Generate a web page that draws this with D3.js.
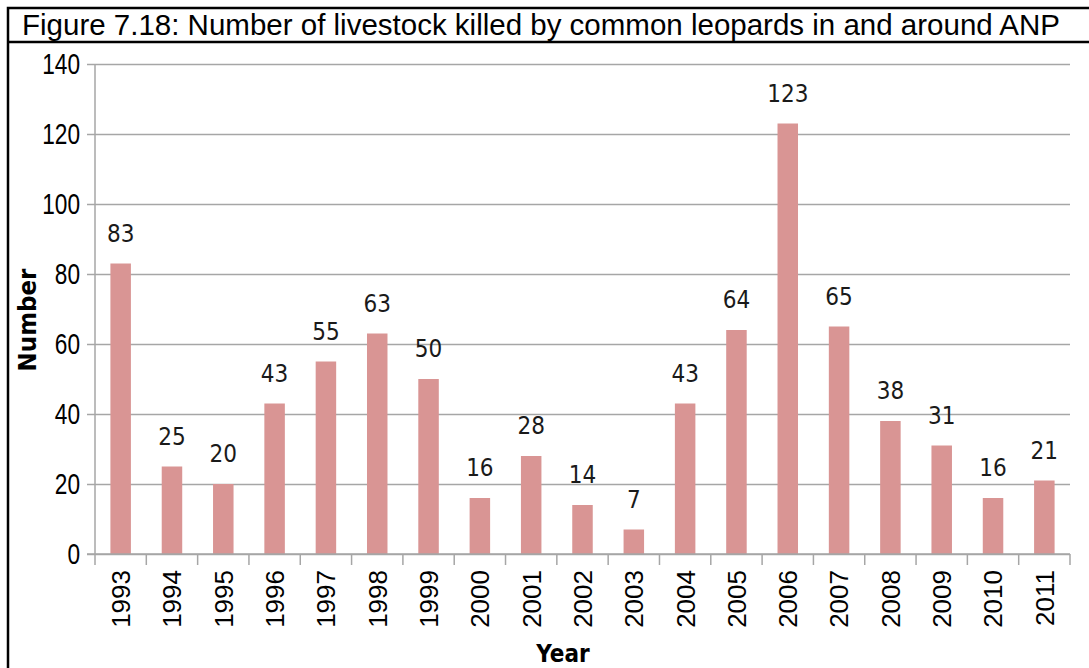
<!DOCTYPE html>
<html>
<head>
<meta charset="utf-8">
<script src="https://cdn.jsdelivr.net/npm/d3@7"></script>
<style>
  html, body { margin: 0; padding: 0; background: #fff; }
  svg { display: block; }
</style>
</head>
<body>
<svg id="chart" width="1089" height="668"></svg>
<script>
// Livestock killed by common leopards per year
const years = ["1993","1994","1995","1996","1997","1998","1999","2000","2001","2002",
               "2003","2004","2005","2006","2007","2008","2009","2010","2011"];
const kills = [83, 25, 20, 43, 55, 63, 50, 16, 28, 14, 7, 43, 64, 123, 65, 38, 31, 16, 21];
const yTicks = [0, 20, 40, 60, 80, 100, 120, 140];

const titleText = "Figure 7.18: Number of livestock killed by common leopards in and around ANP";
const xTitle = "Year";
const yTitle = "Number";

const svg = d3.select("#chart");
const W = 1089, H = 668;
const plot = { left: 95, right: 1070, top: 64, bottom: 554 };

// frame: outer box and title row
svg.append("path")
  .attr("d", `M8,${H + 5} L8,8 L${W + 5},8`)
  .attr("fill", "none").attr("stroke", "#000").attr("stroke-width", 2.5);
svg.append("line")
  .attr("x1", 8).attr("x2", W + 5).attr("y1", 42).attr("y2", 42)
  .attr("stroke", "#000").attr("stroke-width", 2.5);

svg.append("text")
  .attr("x", 22).attr("y", 35)
  .attr("font-family", "Liberation Sans, Arial, sans-serif")
  .attr("font-size", 29.5)
  .attr("fill", "#000")
  .text(titleText);

const x = d3.scaleBand().domain(years).range([plot.left, plot.right]).paddingInner(0).paddingOuter(0);
const y = d3.scaleLinear().domain([0, 140]).range([plot.bottom, plot.top]);

const gridColor = "#a6a6a6";

// horizontal gridlines with left tick marks
const yAxis = d3.axisLeft(y).tickValues(yTicks).tickSize(-(plot.right - plot.left)).tickSizeOuter(0);
const gy = svg.append("g").attr("transform", `translate(${plot.left},0)`).call(yAxis);
gy.select(".domain").remove();
gy.selectAll(".tick line").attr("stroke", gridColor).attr("stroke-width", 1.5).attr("x1", -8);
gy.selectAll(".tick text")
  .attr("font-family", "Liberation Sans Narrow, Arial Narrow, Liberation Sans, sans-serif")
  .attr("font-size", 30)
  .attr("fill", "#000")
  .attr("x", -15)
  .attr("textLength", d => String(d).length * 12.6)
  .attr("lengthAdjust", "spacingAndGlyphs");

// vertical axis line
svg.append("line")
  .attr("x1", plot.left).attr("x2", plot.left)
  .attr("y1", plot.top).attr("y2", plot.bottom)
  .attr("stroke", gridColor).attr("stroke-width", 1.5);

// bars
const barW = 20.5;
svg.append("g").selectAll("rect")
  .data(kills)
  .join("rect")
  .attr("x", (d, i) => x(years[i]) + x.bandwidth() / 2 - barW / 2)
  .attr("y", d => y(d))
  .attr("width", barW)
  .attr("height", d => y(0) - y(d))
  .attr("fill", "#d99594");

// value labels above bars
svg.append("g").selectAll("text")
  .data(kills)
  .join("text")
  .attr("x", (d, i) => x(years[i]) + x.bandwidth() / 2)
  .attr("y", d => y(d) - 22)
  .attr("text-anchor", "middle")
  .attr("font-family", "DejaVu Sans Condensed, DejaVu Sans, sans-serif")
  .attr("font-size", 24)
  .attr("fill", "#1a1a1a")
  .text(d => d);

// x axis: baseline with tick marks at category boundaries
const gx = svg.append("g");
gx.append("line")
  .attr("x1", plot.left - 8).attr("x2", plot.right)
  .attr("y1", plot.bottom).attr("y2", plot.bottom)
  .attr("stroke", gridColor).attr("stroke-width", 1.5);
const bounds = years.map(d => x(d)).concat([plot.right]);
gx.selectAll("line.tk")
  .data(bounds)
  .join("line")
  .attr("class", "tk")
  .attr("x1", d => d).attr("x2", d => d)
  .attr("y1", plot.bottom).attr("y2", plot.bottom + 11)
  .attr("stroke", gridColor).attr("stroke-width", 1.5);

gx.selectAll("text.yr")
  .data(years)
  .join("text")
  .attr("class", "yr")
  .attr("transform", d => `translate(${x(d) + x.bandwidth() / 2},${plot.bottom + 16}) rotate(-90)`)
  .attr("text-anchor", "end")
  .attr("dy", "0.36em")
  .attr("font-family", "Liberation Sans, Arial, sans-serif")
  .attr("font-size", 26)
  .attr("fill", "#000")
  .text(d => d);

// axis titles
svg.append("text")
  .attr("transform", `translate(36,${(plot.top + plot.bottom) / 2 + 11}) rotate(-90)`)
  .attr("text-anchor", "middle")
  .attr("font-family", "DejaVu Sans Condensed, DejaVu Sans, sans-serif")
  .attr("font-weight", "bold")
  .attr("font-size", 25.5)
  .attr("fill", "#000")
  .text(yTitle);

svg.append("text")
  .attr("x", 563).attr("y", 662)
  .attr("text-anchor", "middle")
  .attr("font-family", "DejaVu Sans Condensed, DejaVu Sans, sans-serif")
  .attr("font-weight", "bold")
  .attr("font-size", 24)
  .attr("fill", "#000")
  .text(xTitle);
</script>
</body>
</html>
